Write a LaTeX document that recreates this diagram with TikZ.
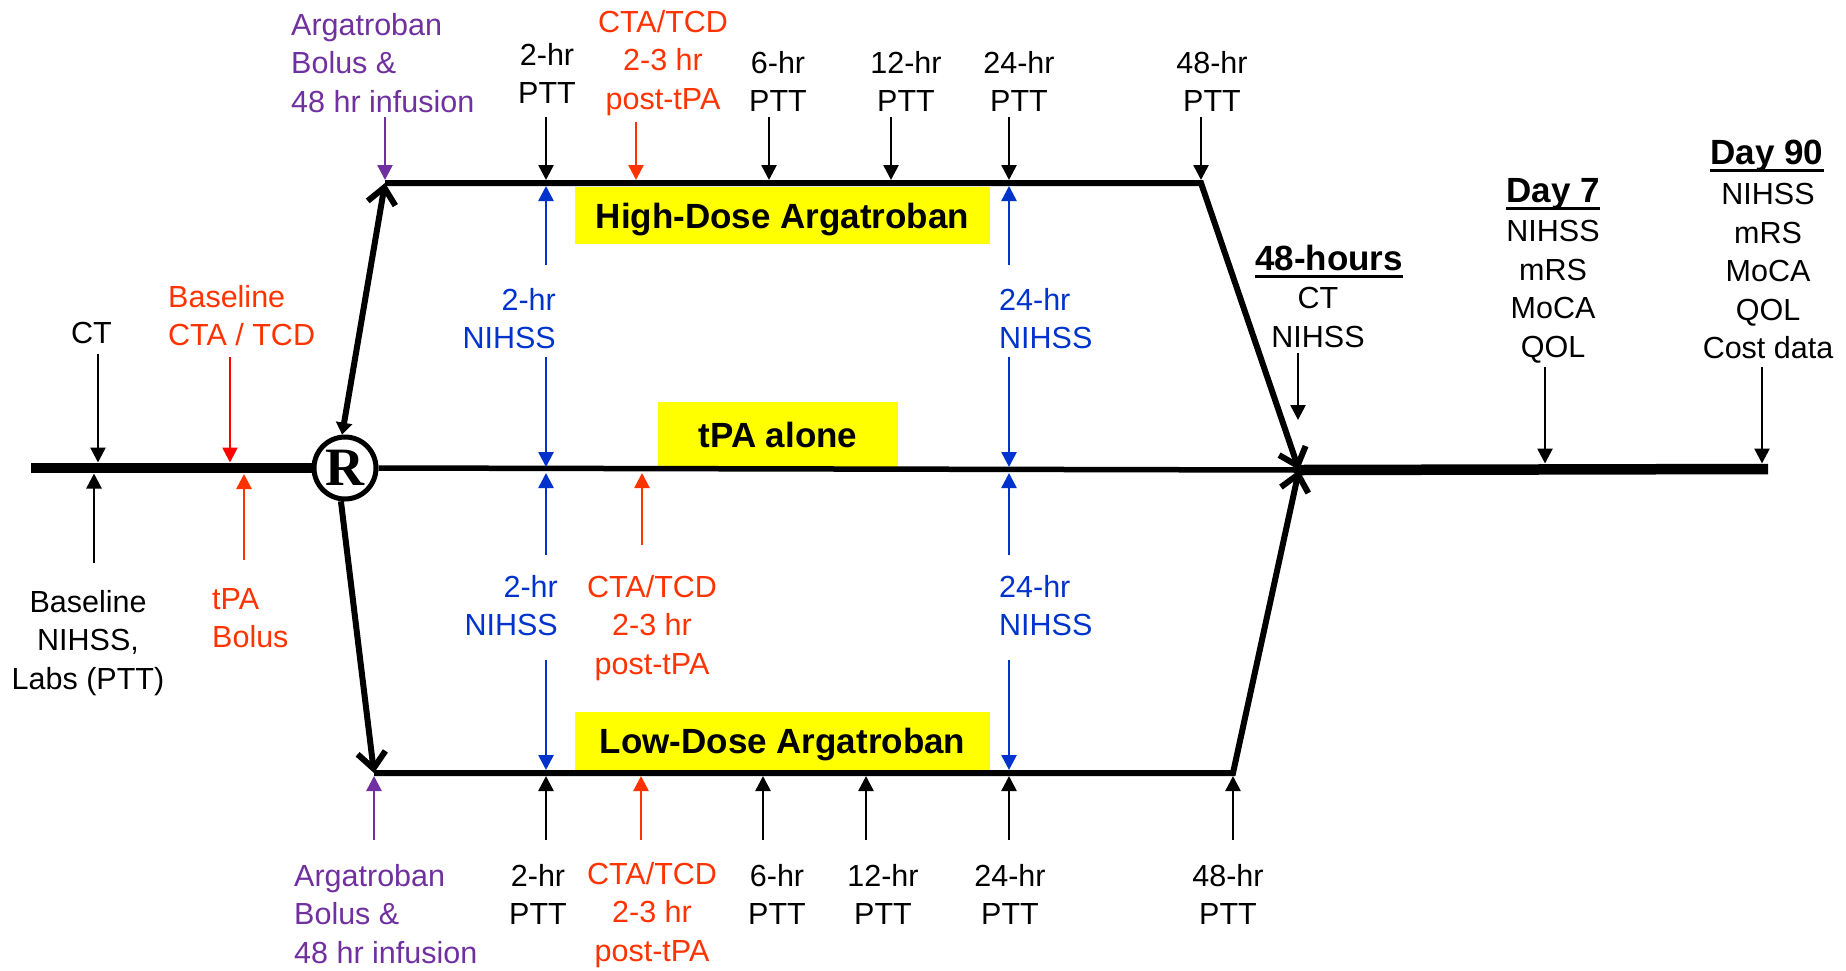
\documentclass[tikz,border=0pt]{standalone}
\usepackage{fontspec}
\setmainfont{Liberation Sans}
\newfontfamily\rfont{Liberation Serif}
\usetikzlibrary{arrows.meta}
\definecolor{argpurple}{HTML}{7030A0}
\definecolor{nihblue}{HTML}{0033CC}
\definecolor{ctared}{HTML}{FF3300}
\definecolor{basered}{HTML}{FF0000}
\definecolor{armyellow}{HTML}{FFFF00}

\begin{document}
\begin{tikzpicture}[x=1pt,y=-1pt,
  lbl/.style={inner sep=0pt, align=center, font=\fontsize{30.5}{38.5}\selectfont},
  lbll/.style={lbl, align=left},
  lblr/.style={lbl, align=right},
  head/.style={inner sep=0pt, font=\bfseries\fontsize{35}{40}\selectfont},
  arm/.style={fill=armyellow, inner sep=0pt, text height=25pt, text depth=0pt,
              font=\bfseries\fontsize{35}{40}\selectfont},
  ann/.style={line width=2.6pt, -{Triangle[length=15pt,width=15pt]}},
  track/.style={line width=6pt, line join=miter, -{Straight Barb[length=16pt,width=28pt]}},
  uline/.style={line width=3pt},
]
\useasboundingbox (0,0) rectangle (1846,970);

% arm labels
\node[arm, minimum width=415pt, minimum height=57pt] (hd) at (782.5,215.5) {High-Dose Argatroban};
\node[arm, minimum width=240pt, minimum height=65pt] (ta) at (778,434.5) {tPA alone};
\node[arm, minimum width=415pt, minimum height=58pt] (ld) at (782.5,741) {Low-Dose Argatroban};

% timeline skeleton
\coordinate (L0) at (31,468);
\node[circle, draw, line width=5pt, minimum size=62pt, inner sep=0pt,
      font=\rfont\bfseries\fontsize{54}{54}\selectfont] (R) at (345,468) {R};
\coordinate (H0) at (385,183);
\coordinate (H1) at (1201,183);
\coordinate (B0) at (374,773);
\coordinate (B1) at (1233,773);
\coordinate (M) at (1299,470);
\coordinate (E) at (1768,469);

\draw[line width=10.5pt] (L0) -- (R.west);
\draw[line width=5.5pt] (R.east) -- (M);
\draw[line width=10.5pt] (M) -- (E);
\draw[track] (H0) -- (H1) -- (M);
\draw[track] (B0) -- (B1) -- (M);
\draw[line width=6pt, {Triangle[length=12pt,width=16pt]}-{Straight Barb[length=16pt,width=28pt]}] (R.95) -- (H0);
\draw[line width=6pt, -{Straight Barb[length=16pt,width=28pt]}] (R.-97) -- (B0);

% before randomisation
\node[lbl, anchor=north] (ct0) at (91.5,322) {CT};
\coordinate (ct0a) at (98,354);
\draw[ann] (ct0a) -- (ct0a |- L0) [shorten >=5.5pt];
\node[lbll, text=ctared, anchor=north west] (bcta) at (168,285) {Baseline\\CTA / TCD};
\coordinate (bctaa) at (230,357);
\draw[ann, basered] (bctaa) -- (bctaa |- L0) [shorten >=5.5pt];
\node[lbl, anchor=north] (bnih) at (88,590) {Baseline\\NIHSS,\\Labs (PTT)};
\coordinate (bniha) at (94,563);
\draw[ann] (bniha) -- (bniha |- L0) [shorten >=5.5pt];
\node[lbll, text=ctared, anchor=north west] (tpab) at (212,588) {tPA\\Bolus};
\coordinate (tpaba) at (244,560);
\draw[ann, ctared] (tpaba) -- (tpaba |- L0) [shorten >=6pt];

% high-dose arm, above
\node[lbll, text=argpurple, anchor=north west] (argT) at (291,13) {Argatroban\\Bolus \&\\48 hr infusion};
\coordinate (argTa) at (385,117);
\draw[ann, argpurple] (argTa) -- (argTa |- H0) [shorten >=3pt];
\node[lbl, anchor=north] (p2T) at (547,43) {2-hr\\PTT};
\coordinate (p2Ta) at (546,117);
\draw[ann] (p2Ta) -- (p2Ta |- H0) [shorten >=3pt];
\node[lbl, text=ctared, anchor=north] (ctaT) at (663,10) {CTA/TCD\\2-3 hr\\post-tPA};
\coordinate (ctaTa) at (636,122);
\draw[ann, ctared] (ctaTa) -- (ctaTa |- H0) [shorten >=3pt];
\node[lbl, anchor=north] (p6T) at (778,51) {6-hr\\PTT};
\coordinate (p6Ta) at (769,117);
\draw[ann] (p6Ta) -- (p6Ta |- H0) [shorten >=3pt];
\node[lbl, anchor=north] (p12T) at (906,51) {12-hr\\PTT};
\coordinate (p12Ta) at (891,117);
\draw[ann] (p12Ta) -- (p12Ta |- H0) [shorten >=3pt];
\node[lbl, anchor=north] (p24T) at (1019,51) {24-hr\\PTT};
\coordinate (p24Ta) at (1009,117);
\draw[ann] (p24Ta) -- (p24Ta |- H0) [shorten >=3pt];
\node[lbl, anchor=north] (p48T) at (1212,51) {48-hr\\PTT};
\coordinate (p48Ta) at (1201,117);
\draw[ann] (p48Ta) -- (H1) [shorten >=3pt];

% NIHSS checks between the high-dose arm and tPA alone
\node[lblr, text=nihblue, anchor=north east] (n2U) at (556,288) {2-hr\\NIHSS};
\coordinate (n2Ua) at (546,265);
\coordinate (n2Ub) at (546,357);
\draw[ann, nihblue] (n2Ua) -- (n2Ua |- H0) [shorten >=3pt];
\draw[ann, nihblue] (n2Ub) -- (n2Ub |- M) [shorten >=3pt];
\node[lbll, text=nihblue, anchor=north west] (n24U) at (999,288) {24-hr\\NIHSS};
\coordinate (n24Ua) at (1009,265);
\coordinate (n24Ub) at (1009,357);
\draw[ann, nihblue] (n24Ua) -- (n24Ua |- H0) [shorten >=3pt];
\draw[ann, nihblue] (n24Ub) -- (n24Ub |- M) [shorten >=3pt];

% checks between tPA alone and the low-dose arm
\node[lblr, text=nihblue, anchor=north east] (n2L) at (558,575) {2-hr\\NIHSS};
\coordinate (n2La) at (546,555);
\coordinate (n2Lb) at (546,660);
\draw[ann, nihblue] (n2La) -- (n2La |- M) [shorten >=3pt];
\draw[ann, nihblue] (n2Lb) -- (n2Lb |- B0) [shorten >=3pt];
\node[lbl, text=ctared, anchor=north] (ctaM) at (652,575) {CTA/TCD\\2-3 hr\\post-tPA};
\coordinate (ctaMa) at (642,545);
\draw[ann, ctared] (ctaMa) -- (ctaMa |- M) [shorten >=3pt];
\node[lbll, text=nihblue, anchor=north west] (n24L) at (999,575) {24-hr\\NIHSS};
\coordinate (n24La) at (1009,555);
\coordinate (n24Lb) at (1009,660);
\draw[ann, nihblue] (n24La) -- (n24La |- M) [shorten >=3pt];
\draw[ann, nihblue] (n24Lb) -- (n24Lb |- B0) [shorten >=3pt];

% low-dose arm, below
\node[lbll, text=argpurple, anchor=north west] (argB) at (294,864) {Argatroban\\Bolus \&\\48 hr infusion};
\coordinate (argBa) at (374,840);
\draw[ann, argpurple] (argBa) -- (B0) [shorten >=3pt];
\node[lbl, anchor=north] (p2B) at (538,864) {2-hr\\PTT};
\coordinate (p2Ba) at (546,840);
\draw[ann] (p2Ba) -- (p2Ba |- B0) [shorten >=3pt];
\node[lbl, text=ctared, anchor=north] (ctaB) at (652,862) {CTA/TCD\\2-3 hr\\post-tPA};
\coordinate (ctaBa) at (641,840);
\draw[ann, ctared] (ctaBa) -- (ctaBa |- B0) [shorten >=3pt];
\node[lbl, anchor=north] (p6B) at (777,864) {6-hr\\PTT};
\coordinate (p6Ba) at (763,840);
\draw[ann] (p6Ba) -- (p6Ba |- B0) [shorten >=3pt];
\node[lbl, anchor=north] (p12B) at (883,864) {12-hr\\PTT};
\coordinate (p12Ba) at (866,840);
\draw[ann] (p12Ba) -- (p12Ba |- B0) [shorten >=3pt];
\node[lbl, anchor=north] (p24B) at (1010,864) {24-hr\\PTT};
\coordinate (p24Ba) at (1009,840);
\draw[ann] (p24Ba) -- (p24Ba |- B0) [shorten >=3pt];
\node[lbl, anchor=north] (p48B) at (1228,864) {48-hr\\PTT};
\coordinate (p48Ba) at (1233,840);
\draw[ann] (p48Ba) -- (B1) [shorten >=3pt];

% follow-up
\node[head, anchor=north] (h48) at (1329,245) {48-hours};
\draw[uline] ([yshift=-5.5pt]h48.base west) -- ([yshift=-5.5pt]h48.base east);
\node[lbl, anchor=north] (h48b) at (1318,287) {CT\\NIHSS};
\coordinate (h48a) at (1298,353);
\coordinate (h48t) at (1298,420);
\draw[ann] (h48a) -- (h48t);

\node[head, anchor=north] (d7) at (1553,178) {Day 7};
\draw[uline] ([yshift=-6pt]d7.base west) -- ([yshift=-6pt]d7.base east);
\node[lbl, anchor=north] (d7b) at (1553,220) {NIHSS\\mRS\\MoCA\\QOL};
\coordinate (d7a) at (1545,367);
\draw[ann] (d7a) -- (d7a |- E) [shorten >=5.5pt];

\node[head, anchor=north] (d90) at (1767,140) {Day 90};
\draw[uline] ([yshift=-6pt]d90.base west) -- ([yshift=-6pt]d90.base east);
\node[lbl, anchor=north] (d90b) at (1768,183) {NIHSS\\mRS\\MoCA\\QOL\\Cost data};
\coordinate (d90a) at (1762,367);
\draw[ann] (d90a) -- (d90a |- E) [shorten >=5.5pt];
\end{tikzpicture}
\end{document}
